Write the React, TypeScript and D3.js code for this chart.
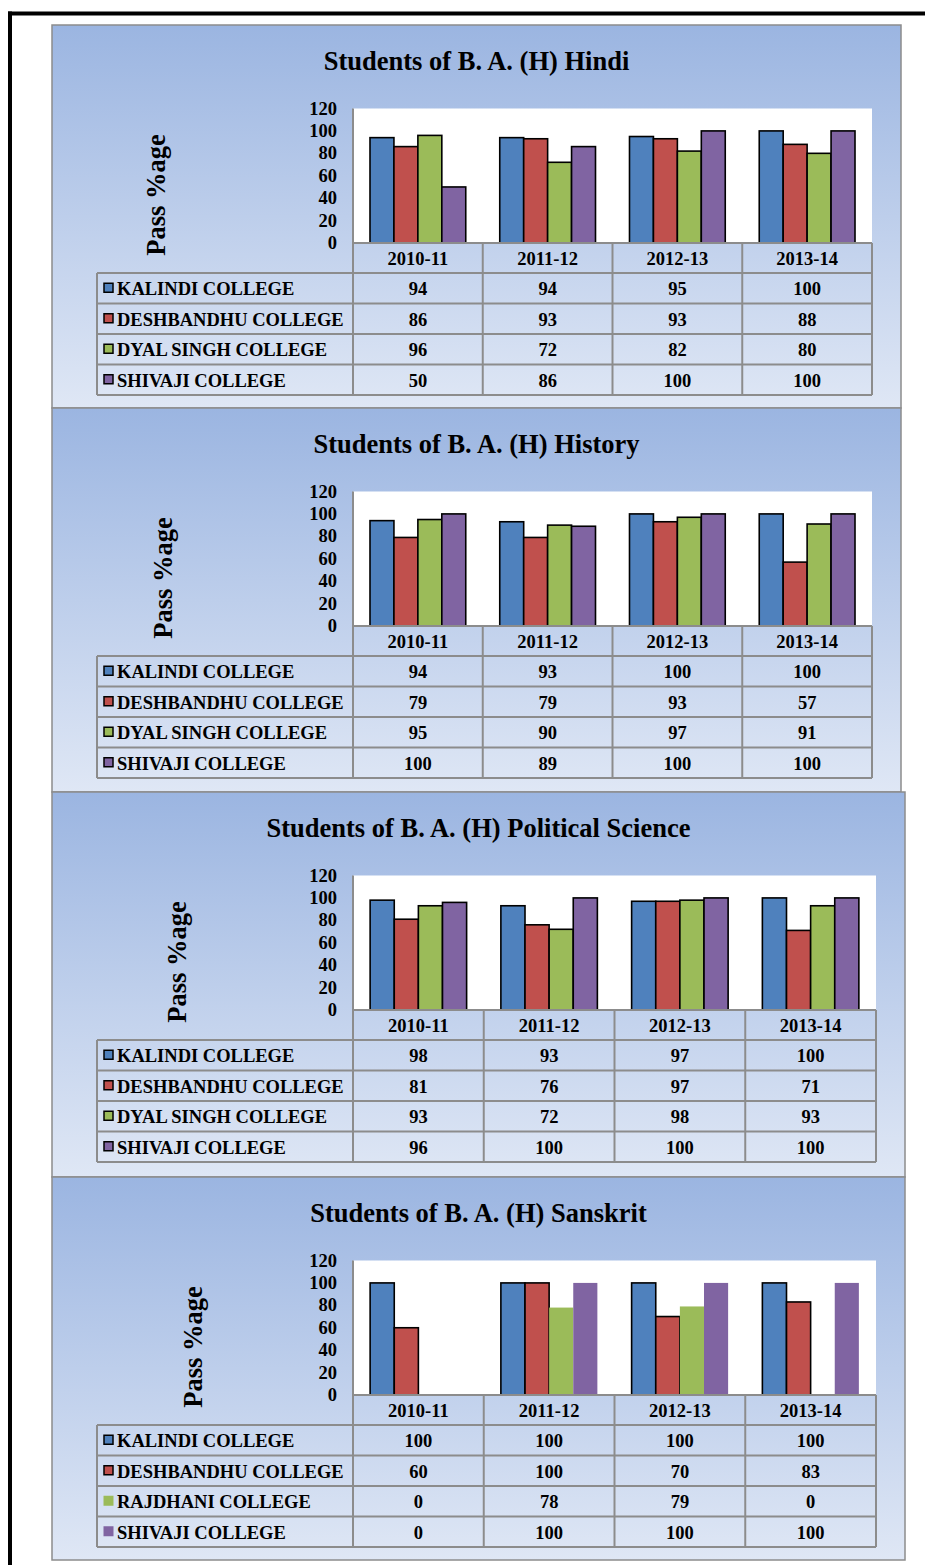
import React from 'react';
import * as d3 from 'd3';

const categories = ['2010-11', '2011-12', '2012-13', '2013-14'];
const yTicks = [0, 20, 40, 60, 80, 100, 120];
const seriesColors = ['#4F81BD', '#C0504D', '#9BBB59', '#8064A2'];

const hindiTitle = 'Students of B. A. (H) Hindi';
const hindiColleges = ['KALINDI COLLEGE', 'DESHBANDHU COLLEGE', 'DYAL SINGH COLLEGE', 'SHIVAJI COLLEGE'];
const hindiKalindi = [94, 94, 95, 100];
const hindiDeshbandhu = [86, 93, 93, 88];
const hindiDyalSingh = [96, 72, 82, 80];
const hindiShivaji = [50, 86, 100, 100];

const historyTitle = 'Students of B. A. (H) History';
const historyColleges = ['KALINDI COLLEGE', 'DESHBANDHU COLLEGE', 'DYAL SINGH COLLEGE', 'SHIVAJI COLLEGE'];
const historyKalindi = [94, 93, 100, 100];
const historyDeshbandhu = [79, 79, 93, 57];
const historyDyalSingh = [95, 90, 97, 91];
const historyShivaji = [100, 89, 100, 100];

const polsciTitle = 'Students of B. A. (H) Political Science';
const polsciColleges = ['KALINDI COLLEGE', 'DESHBANDHU COLLEGE', 'DYAL SINGH COLLEGE', 'SHIVAJI COLLEGE'];
const polsciKalindi = [98, 93, 97, 100];
const polsciDeshbandhu = [81, 76, 97, 71];
const polsciDyalSingh = [93, 72, 98, 93];
const polsciShivaji = [96, 100, 100, 100];

const sanskritTitle = 'Students of B. A. (H) Sanskrit';
const sanskritColleges = ['KALINDI COLLEGE', 'DESHBANDHU COLLEGE', 'RAJDHANI COLLEGE', 'SHIVAJI COLLEGE'];
const sanskritKalindi = [100, 100, 100, 100];
const sanskritDeshbandhu = [60, 100, 70, 83];
const sanskritRajdhani = [0, 78, 79, 0];
const sanskritShivaji = [0, 100, 100, 100];

const yLabel = 'Pass %age';
const FONT = '"Liberation Serif", "Times New Roman", serif';
const GRID = '#8c8c8c';

type PanelSpec = {
  title: string;
  colleges: string[];
  values: number[][];
  outlined: boolean[];
  top: number;
  bottom: number;
  right: number;
  tableRight: number;
  labelX: number;
  gid: string;
};

const panels: PanelSpec[] = [
  { title: hindiTitle, colleges: hindiColleges, values: [hindiKalindi, hindiDeshbandhu, hindiDyalSingh, hindiShivaji], outlined: [true, true, true, true], top: 25, bottom: 408, right: 901, tableRight: 872, labelX: 156, gid: 'g1' },
  { title: historyTitle, colleges: historyColleges, values: [historyKalindi, historyDeshbandhu, historyDyalSingh, historyShivaji], outlined: [true, true, true, true], top: 408, bottom: 792, right: 901, tableRight: 872, labelX: 163, gid: 'g2' },
  { title: polsciTitle, colleges: polsciColleges, values: [polsciKalindi, polsciDeshbandhu, polsciDyalSingh, polsciShivaji], outlined: [true, true, true, true], top: 792, bottom: 1177, right: 905, tableRight: 876, labelX: 177, gid: 'g3' },
  { title: sanskritTitle, colleges: sanskritColleges, values: [sanskritKalindi, sanskritDeshbandhu, sanskritRajdhani, sanskritShivaji], outlined: [true, true, false, false], top: 1177, bottom: 1560, right: 905, tableRight: 876, labelX: 193, gid: 'g4' },
];

function Panel({ p }: { p: PanelSpec }) {
  const left = 52;
  const plotLeft = 353;
  const plotTop = p.top + 83.5;
  const plotBottom = p.top + 218;
  const legendLeft = 97;
  const headerH = 30;
  const rowH = 30.5;
  const y = d3.scaleLinear().domain([0, 120]).range([plotBottom, plotTop]);
  const x0 = d3.scaleBand<string>().domain(categories).range([plotLeft, p.tableRight]).padding(0);
  const x1 = d3.scaleBand<number>().domain(d3.range(p.colleges.length)).range([0, x0.bandwidth()]).paddingInner(0).paddingOuter(0.71);
  const rowTop = (i: number) => plotBottom + headerH + i * rowH;
  const tableBottom = rowTop(p.colleges.length);
  const fs = 18.5;
  return (
    <g>
      <defs>
        <linearGradient id={p.gid} x1="0" y1="0" x2="0" y2="1">
          <stop offset="0" stopColor="#9BB5E1" />
          <stop offset="1" stopColor="#DFE7F5" />
        </linearGradient>
      </defs>
      <rect x={left} y={p.top} width={p.right - left} height={p.bottom - p.top} fill={`url(#${p.gid})`} stroke={GRID} strokeWidth={1.5} />
      <text x={(left + p.right) / 2} y={p.top + 36} textAnchor="middle" dominantBaseline="central" fontFamily={FONT} fontWeight="bold" fontSize={26.5} fill="#000">{p.title}</text>
      <text transform={`translate(${p.labelX},${p.top + 170}) rotate(-90)`} textAnchor="middle" dominantBaseline="central" fontFamily={FONT} fontWeight="bold" fontSize={26.5} fill="#000">{yLabel}</text>
      <rect x={plotLeft} y={plotTop} width={p.tableRight - plotLeft} height={plotBottom - plotTop} fill="#fff" />
      {yTicks.map((t) => (
        <text key={t} x={337} y={y(t)} textAnchor="end" dominantBaseline="central" fontFamily={FONT} fontWeight="bold" fontSize={fs} fill="#000">{t}</text>
      ))}
      {p.values.map((vals, si) =>
        vals.map((v, ci) =>
          v > 0 ? (
            <rect key={`${si}-${ci}`} x={(x0(categories[ci]) as number) + (x1(si) as number)} y={y(v)} width={x1.bandwidth()} height={plotBottom - y(v)} fill={seriesColors[si]} stroke={p.outlined[si] ? '#000' : 'none'} strokeWidth={1.6} />
          ) : null
        )
      )}
      <line x1={plotLeft} x2={plotLeft} y1={plotTop} y2={plotBottom} stroke={GRID} strokeWidth={2} />
      {/* table grid */}
      <line x1={plotLeft} x2={p.tableRight} y1={plotBottom} y2={plotBottom} stroke={GRID} strokeWidth={2} />
      {d3.range(p.colleges.length + 1).map((i) => (
        <line key={`h${i}`} x1={legendLeft} x2={p.tableRight} y1={rowTop(i)} y2={rowTop(i)} stroke={GRID} strokeWidth={2} />
      ))}
      <line x1={legendLeft} x2={legendLeft} y1={rowTop(0)} y2={tableBottom} stroke={GRID} strokeWidth={2} />
      {categories.map((c) => (
        <line key={`v${c}`} x1={x0(c)} x2={x0(c)} y1={plotBottom} y2={tableBottom} stroke={GRID} strokeWidth={2} />
      ))}
      <line x1={p.tableRight} x2={p.tableRight} y1={plotBottom} y2={tableBottom} stroke={GRID} strokeWidth={2} />
      {categories.map((c) => (
        <text key={`c${c}`} x={(x0(c) as number) + x0.bandwidth() / 2} y={plotBottom + headerH / 2 + 1} textAnchor="middle" dominantBaseline="central" fontFamily={FONT} fontWeight="bold" fontSize={fs} fill="#000">{c}</text>
      ))}
      {p.colleges.map((name, si) => {
        const cy = rowTop(si) + rowH / 2;
        return (
          <g key={name}>
            {p.outlined[si] ? (
              <rect x={104} y={cy - 5} width={9} height={9} fill={seriesColors[si]} stroke="#000" strokeWidth={1.5} />
            ) : (
              <rect x={103.5} y={cy - 5.5} width={10} height={10} fill={seriesColors[si]} />
            )}
            <text x={117} y={cy + 1} dominantBaseline="central" fontFamily={FONT} fontWeight="bold" fontSize={fs} fill="#000">{name}</text>
            {p.values[si].map((v, ci) => (
              <text key={ci} x={(x0(categories[ci]) as number) + x0.bandwidth() / 2} y={cy + 1} textAnchor="middle" dominantBaseline="central" fontFamily={FONT} fontWeight="bold" fontSize={fs} fill="#000">{v}</text>
            ))}
          </g>
        );
      })}
    </g>
  );
}

export default function App() {
  return (
    <svg width={925} height={1565} style={{ position: 'absolute', left: 0, top: 0, display: 'block' }}>
      <rect x={0} y={0} width={925} height={1565} fill="#fff" />
      {panels.map((p) => (
        <Panel key={p.gid} p={p} />
      ))}
      <line x1={8} x2={925} y1={13.5} y2={13.5} stroke="#000" strokeWidth={4} />
      <line x1={10} x2={10} y1={11.5} y2={1565} stroke="#000" strokeWidth={4} />
    </svg>
  );
}
